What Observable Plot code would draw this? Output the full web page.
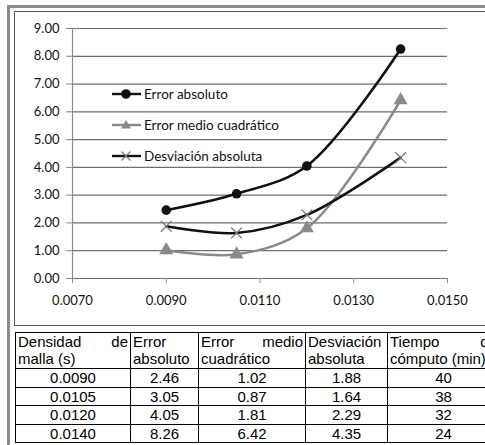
<!DOCTYPE html>
<html>
<head>
<meta charset="utf-8">
<script src="https://cdn.jsdelivr.net/npm/d3@7"></script>
<script src="https://cdn.jsdelivr.net/npm/@observablehq/plot@0.6"></script>
<style>
  html, body { margin: 0; padding: 0; background: #fff; overflow: hidden; }
  #page { position: relative; width: 485px; height: 445px; overflow: hidden; }
  #outer { position: absolute; left: 7px; top: 5px; width: 700px; height: 700px;
           border-left: 3px solid #8c8c8c; border-top: 3px solid #8c8c8c; }
  #chartbox { position: absolute; left: 14px; top: 11px; width: 700px; height: 315px;
              border: 1px solid #555; border-right: none; box-sizing: border-box; }
  #chart { position: absolute; left: 15px; top: 12px; }
  #legend { position: absolute; left: 112px; top: 85px; font-family: Lato, sans-serif; font-size: 13.5px; color: #111; }
  #legend .item { position: absolute; left: 0; white-space: nowrap; height: 18px; }
  #legend svg { position: absolute; left: 0; top: 0; }
  #legend span { position: absolute; left: 32px; top: 0px; line-height: 18px; }
  table { position: absolute; left: 15px; top: 332px; border-collapse: collapse;
          font-family: "Liberation Sans", Arial, sans-serif; font-size: 15px;
          color: #000; table-layout: fixed; }
  td { border: 1px solid #000; padding: 0 2px; overflow: hidden; }
  td.h { text-align: justify; vertical-align: top; line-height: 17px; padding-top: 0px; padding-bottom: 1px; }
  td.v { text-align: center; line-height: 17.5px; height: 17.5px; padding: 0 2px; }
</style>
</head>
<body>
<div id="page">
  <div id="outer"></div>
  <div id="chartbox"></div>
  <div id="chart"></div>
  <div id="legend"></div>
  <table id="tbl"></table>
</div>
<script>
// Data
const densidad   = [0.0090, 0.0105, 0.0120, 0.0140];
const errorAbs   = [2.46, 3.05, 4.05, 8.26];
const errorMedio = [1.02, 0.87, 1.81, 6.42];
const desviacion = [1.88, 1.64, 2.29, 4.35];
const tiempo     = [40, 38, 32, 24];

const densidadLabels = ["0.0090", "0.0105", "0.0120", "0.0140"];
const xTicks = [0.007, 0.009, 0.011, 0.013, 0.015];
const yTicks = [0, 1, 2, 3, 4, 5, 6, 7, 8, 9];
const seriesNames = ["Error absoluto", "Error medio  cuadrático", "Desviación absoluta"];
const headers = ["Densidad de malla (s)", "Error absoluto", "Error medio cuadrático", "Desviación absoluta", "Tiempo de cómputo (min)"];

const rows = (ys) => densidad.map((d, i) => ({x: d, y: ys[i]}));
const sA = rows(errorAbs), sM = rows(errorMedio), sD = rows(desviacion);

const chart = Plot.plot({
  width: 470,
  height: 313,
  marginLeft: 57,
  marginTop: 16,
  marginRight: 38,
  marginBottom: 47,
  style: {fontFamily: "Lato, sans-serif", fontSize: "13px", color: "#111", background: "transparent"},
  x: {domain: [0.007, 0.015], label: null},
  y: {domain: [0, 9], label: null},
  marks: [
    Plot.ruleY(yTicks.filter(d => d > 0), {stroke: "#6e6e6e", strokeWidth: 1.2}),
    Plot.ruleX([0.007], {stroke: "#8a8a8a", strokeWidth: 1.2, y1: 0, y2: 9}),
    Plot.ruleY([0], {stroke: "#6e6e6e", strokeWidth: 1.2}),
    Plot.axisY({ticks: yTicks, tickFormat: d3.format(".2f"), tickSize: 6, tickPadding: 7, stroke: "#8a8a8a", fill: "#111", label: null}),
    Plot.axisX({ticks: xTicks, tickFormat: d3.format(".4f"), tickSize: 5, tickPadding: 12, stroke: "#8a8a8a", fill: "#111", label: null}),
    Plot.line(sM, {x: "x", y: "y", curve: "catmull-rom", stroke: "#8a8a8a", strokeWidth: 2.6}),
    Plot.line(sD, {x: "x", y: "y", curve: "catmull-rom", stroke: "#111", strokeWidth: 2.6}),
    Plot.line(sA, {x: "x", y: "y", curve: "catmull-rom", stroke: "#111", strokeWidth: 2.6}),
    Plot.dot(sA, {x: "x", y: "y", r: 4.8, fill: "#111", stroke: "none"}),
    Plot.dot(sM, {x: "x", y: "y", symbol: "triangle", r: 5.2, fill: "#8a8a8a", stroke: "none"}),
    Plot.dot(sD, {x: "x", y: "y", symbol: "times", r: 5, stroke: "#777", strokeWidth: 1.2, fill: "none"})
  ]
});
document.getElementById("chart").appendChild(chart);

// Legend (inside the plot area)
const legend = document.getElementById("legend");
const legendStyles = [
  {stroke: "#111", marker: "circle", mfill: "#111"},
  {stroke: "#8a8a8a", marker: "triangle", mfill: "#8a8a8a"},
  {stroke: "#111", marker: "times", mfill: "#777"}
];
seriesNames.forEach((name, i) => {
  const st = legendStyles[i];
  const item = document.createElement("div");
  item.className = "item";
  item.style.top = (i * 31) + "px";
  let m = "";
  if (st.marker === "circle") m = `<circle cx="14" cy="9" r="4.8" fill="${st.mfill}"/>`;
  if (st.marker === "triangle") m = `<path d="M14,4 L19,12.5 L9,12.5 Z" fill="${st.mfill}"/>`;
  if (st.marker === "times") m = `<path d="M9.5,4.5 L18.5,13.5 M18.5,4.5 L9.5,13.5" stroke="${st.mfill}" stroke-width="1.2"/>`;
  item.innerHTML = `<svg width="30" height="18"><line x1="0" x2="29" y1="9" y2="9" stroke="${st.stroke}" stroke-width="2.4"/>${m}</svg><span>${name}</span>`;
  legend.appendChild(item);
});

// Table
const tbl = document.getElementById("tbl");
const colW = [115, 68, 107, 82, 112];
tbl.style.width = colW.reduce((a, b) => a + b, 0) + "px";
const cg = document.createElement("colgroup");
colW.forEach(w => { const c = document.createElement("col"); c.style.width = w + "px"; cg.appendChild(c); });
tbl.appendChild(cg);
const hr = document.createElement("tr");
headers.forEach(h => { const td = document.createElement("td"); td.className = "h"; td.textContent = h; hr.appendChild(td); });
tbl.appendChild(hr);
densidad.forEach((d, i) => {
  const tr = document.createElement("tr");
  [densidadLabels[i], errorAbs[i].toFixed(2), errorMedio[i].toFixed(2), desviacion[i].toFixed(2), String(tiempo[i])].forEach(v => {
    const td = document.createElement("td"); td.className = "v"; td.textContent = v; tr.appendChild(td);
  });
  tbl.appendChild(tr);
});
</script>
</body>
</html>
